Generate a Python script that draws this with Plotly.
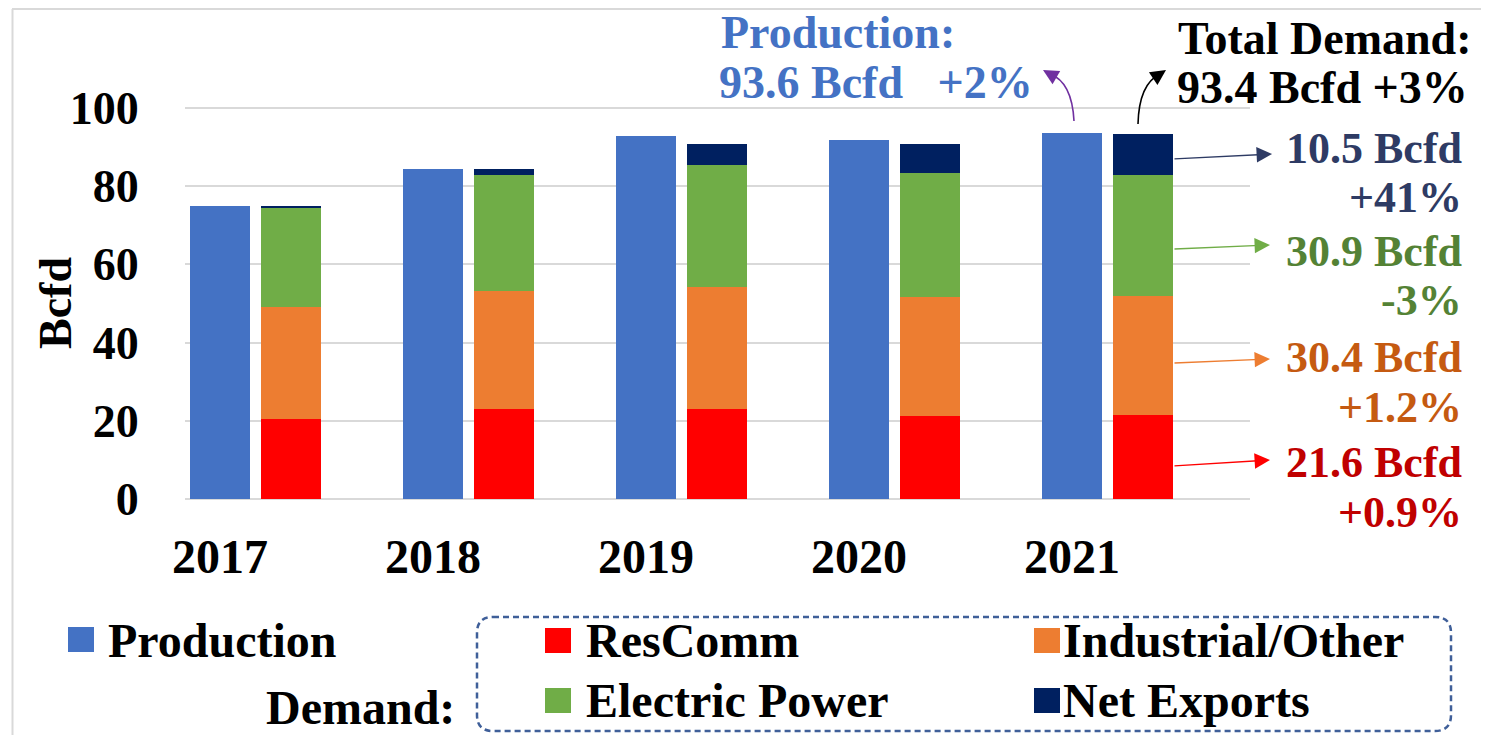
import plotly.graph_objects as go

# ---------------- data ----------------
years = ["2017", "2018", "2019", "2020", "2021"]
production = [75.0, 84.4, 92.7, 91.8, 93.6]
rescomm = [20.5, 23.0, 23.0, 21.2, 21.6]
industrial = [28.5, 30.2, 31.3, 30.5, 30.4]
electric = [25.4, 29.6, 31.2, 31.7, 30.9]
net_exports = [0.6, 1.6, 5.3, 7.4, 10.5]

demand_series = [
    ("ResComm", rescomm, "#FF0000"),
    ("Industrial/Other", industrial, "#ED7D31"),
    ("Electric Power", electric, "#70AD47"),
    ("Net Exports", net_exports, "#002060"),
]
prod_color = "#4472C4"

FONT = "Liberation Serif"
OFF = 8  # default page body margin
W, H = 1489 - OFF, 735 - OFF
ML = 185 - OFF
PLOT_RIGHT = 1250 - OFF
MR = W - PLOT_RIGHT
MT = 96
BOTTOM = 499 - OFF
MB = H - BOTTOM
PLOT_W = W - ML - MR
PLOT_H = H - MT - MB


def px(x):  # page pixel -> paper
    return (x - OFF - ML) / PLOT_W


def py(y):
    return (BOTTOM - (y - OFF)) / PLOT_H


idx = list(range(len(years)))
BAR_W = 0.282
DEM_OFF = 0.333

fig = go.Figure()
fig.add_trace(go.Bar(x=idx, y=production, width=BAR_W, marker=dict(color=prod_color, line=dict(width=0)),
                     name="Production", showlegend=False))
for name, vals, col in demand_series:
    fig.add_trace(go.Bar(x=[i + DEM_OFF for i in idx], y=vals, width=BAR_W,
                         marker=dict(color=col, line=dict(width=0)), name=name, showlegend=False))

fig.update_layout(
    width=W, height=H, barmode="stack",
    margin=dict(l=ML, r=MR, t=MT, b=MB, autoexpand=False),
    paper_bgcolor="white", plot_bgcolor="white",
    font=dict(family=FONT, color="black"),
    showlegend=False,
)
fig.update_xaxes(range=[-0.164, 4.836], tickvals=idx, ticktext=years, showgrid=False, zeroline=False,
                 ticks="outside", ticklen=15, tickcolor="rgba(0,0,0,0)",
                 tickfont=dict(family=FONT, size=48, weight="bold", color="black"))
fig.update_yaxes(range=[0, 101], tickvals=[0, 20, 40, 60, 80, 100], showgrid=True, gridcolor="#D9D9D9",
                 gridwidth=2, zeroline=True, zerolinecolor="#D9D9D9", zerolinewidth=2,
                 ticks="outside", ticklen=36, tickcolor="rgba(0,0,0,0)",
                 tickfont=dict(family=FONT, size=46, weight="bold", color="black"))

ann = []


def text(t, x, y, color="black", size=42, xanchor="left"):
    ann.append(dict(text=t, x=px(x), y=py(y), xref="paper", yref="paper", showarrow=False,
                    xanchor=xanchor, yanchor="middle",
                    font=dict(family=FONT, size=size, color=color, weight="bold")))


# y axis title
ann.append(dict(text="Bcfd", x=px(55), y=py(303), xref="paper", yref="paper", showarrow=False,
                textangle=-90, xanchor="center", yanchor="middle",
                font=dict(family=FONT, size=46, color="black", weight="bold")))

# top annotations
text("Production:", 719, 33, prod_color, 46)
text("93.6 Bcfd\u00a0\u00a0 +2%", 717, 83, prod_color, 46)
text("Total Demand:", 1176, 38, "black", 46)
text("93.4 Bcfd +3%", 1175, 87, "black", 46)

# right annotations
right_labels = [
    ("10.5 Bcfd", "+41%", "#2E3B64", 148, 197),
    ("30.9 Bcfd", "-3%", "#548235", 251, 300),
    ("30.4 Bcfd", "+1.2%", "#C55A11", 357, 407),
    ("21.6 Bcfd", "+0.9%", "#C00000", 462, 512),
]
for l1, l2, col, y1, y2 in right_labels:
    text(l1, 1464, y1, col, 44, "right")
    text(l2, 1464, y2, col, 44, "right")

# straight arrows (tail px, head px)
arrows = [
    ((1173, 159), (1272, 154), "#2E3B64"),
    ((1173, 249), (1270, 245), "#70AD47"),
    ((1173, 363), (1270, 359), "#ED7D31"),
    ((1173, 466), (1270, 460), "#FF0000"),
]
for (tx, ty), (hx, hy), col in arrows:
    ann.append(dict(text="", x=px(hx), y=py(hy), xref="paper", yref="paper", showarrow=True,
                    ax=tx - hx, ay=ty - hy, axref="pixel", ayref="pixel",
                    arrowhead=2, arrowsize=2.2, arrowwidth=1.4, arrowcolor=col, standoff=0))

shapes = []


def P(x, y):
    return f"{px(x):.5f},{py(y):.5f}"


# curved arrows
curves = [
    ((1074, 121), (1072, 82), (1050, 74), (1043, 70), "#7030A0"),
    ((1138, 124), (1139, 84), (1160, 74), (1166, 70), "#000000"),
]
for s, c, e, tip, col in curves:
    shapes.append(dict(type="path", xref="paper", yref="paper",
                       path=f"M{P(*s)} Q{P(*c)} {P(*e)}", line=dict(color=col, width=1.6)))
    ann.append(dict(text="", x=px(tip[0]), y=py(tip[1]), xref="paper", yref="paper", showarrow=True,
                    ax=(e[0] - tip[0]) * 2, ay=(e[1] - tip[1]) * 2, axref="pixel", ayref="pixel",
                    arrowhead=2, arrowsize=2.2, arrowwidth=1.4, arrowcolor=col, standoff=0))

# chart outer border (left + top)
shapes.append(dict(type="line", xref="paper", yref="paper", x0=px(12.5), x1=px(12.5), y0=py(9), y1=py(740),
                   line=dict(color="#D9D9D9", width=2)))
shapes.append(dict(type="line", xref="paper", yref="paper", x0=px(12), x1=px(1495), y0=py(9), y1=py(9),
                   line=dict(color="#D9D9D9", width=2)))

# custom legend
legend_items = [
    ("Production", prod_color, 68, 627, 106, 640),
    ("ResComm", "#FF0000", 545, 628, 584, 640),
    ("Industrial/Other", "#ED7D31", 1034, 628, 1061, 640),
    ("Electric Power", "#70AD47", 545, 688, 584, 700),
    ("Net Exports", "#002060", 1034, 688, 1061, 700),
]
for name, col, sx, sy, tx, ty in legend_items:
    shapes.append(dict(type="rect", xref="paper", yref="paper", x0=px(sx), x1=px(sx + 26),
                       y0=py(sy), y1=py(sy + 25), fillcolor=col, line=dict(width=0)))
    text(name, tx, ty, "black", 48)
text("Demand:", 457, 707, "black", 48, "right")

# dashed rounded box
x0, x1, y0, y1, r = 477, 1451, 617, 731, 16
box = (f"M{P(x0 + r, y0)} L{P(x1 - r, y0)} Q{P(x1, y0)} {P(x1, y0 + r)} "
       f"L{P(x1, y1 - r)} Q{P(x1, y1)} {P(x1 - r, y1)} L{P(x0 + r, y1)} "
       f"Q{P(x0, y1)} {P(x0, y1 - r)} L{P(x0, y0 + r)} Q{P(x0, y0)} {P(x0 + r, y0)} Z")
shapes.append(dict(type="path", xref="paper", yref="paper", path=box,
                   line=dict(color="#3F5F99", width=2.5, dash="6px,4px")))

fig.update_layout(annotations=ann, shapes=shapes)
fig.write_html("out.html")
